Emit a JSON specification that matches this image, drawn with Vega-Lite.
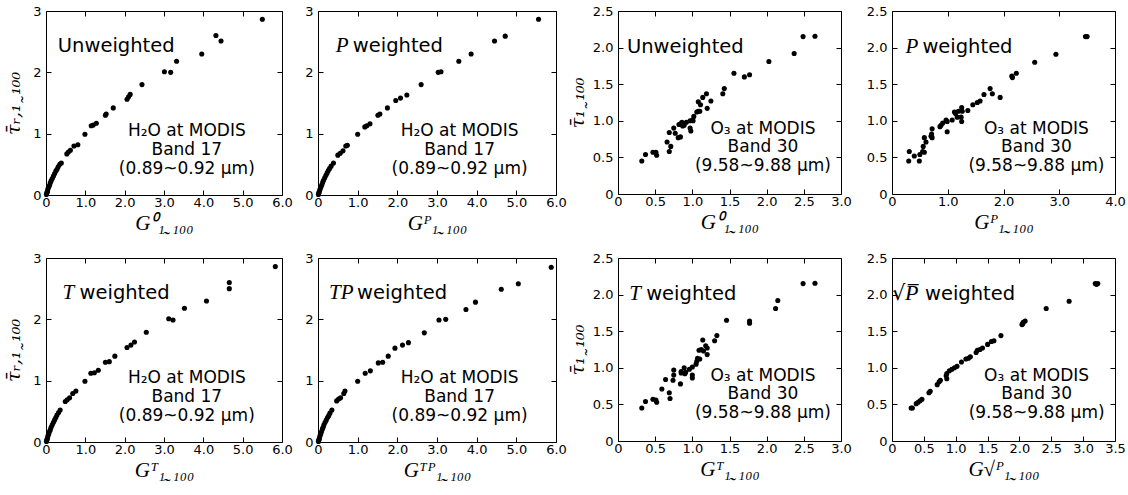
{
"$schema":"https://vega.github.io/schema/vega-lite/v6.json",
"padding":{"left":3,"top":-4,"right":0,"bottom":0},
"background":"white",
"datasets":{
"h2o":[
{"panel":"U","G":5.50,"tau":2.865},{"panel":"U","G":4.32,"tau":2.60},{"panel":"U","G":4.45,"tau":2.51},{"panel":"U","G":3.96,"tau":2.30},{"panel":"U","G":3.32,"tau":2.18},{"panel":"U","G":3.17,"tau":2.00},{"panel":"U","G":3.01,"tau":2.01},{"panel":"U","G":2.44,"tau":1.80},{"panel":"U","G":2.14,"tau":1.64},{"panel":"U","G":2.10,"tau":1.60},{"panel":"U","G":2.06,"tau":1.56},{"panel":"U","G":1.71,"tau":1.42},{"panel":"U","G":1.53,"tau":1.32},{"panel":"U","G":1.51,"tau":1.30},{"panel":"U","G":1.28,"tau":1.17},{"panel":"U","G":1.20,"tau":1.14},{"panel":"U","G":1.15,"tau":1.13},{"panel":"U","G":0.99,"tau":0.99},{"panel":"U","G":0.81,"tau":0.82},{"panel":"U","G":0.71,"tau":0.80},{"panel":"U","G":0.62,"tau":0.73},{"panel":"U","G":0.57,"tau":0.70},{"panel":"U","G":0.53,"tau":0.67},{"panel":"U","G":0.39,"tau":0.52},{"panel":"U","G":0.35,"tau":0.50},{"panel":"U","G":0.31,"tau":0.46},{"panel":"U","G":0.28,"tau":0.42},{"panel":"U","G":0.25,"tau":0.39},{"panel":"U","G":0.22,"tau":0.35},{"panel":"U","G":0.19,"tau":0.31},{"panel":"U","G":0.16,"tau":0.27},{"panel":"U","G":0.13,"tau":0.23},{"panel":"U","G":0.11,"tau":0.20},{"panel":"U","G":0.09,"tau":0.16},{"panel":"U","G":0.07,"tau":0.13},{"panel":"U","G":0.05,"tau":0.10},{"panel":"U","G":0.04,"tau":0.07},{"panel":"U","G":0.03,"tau":0.05},{"panel":"U","G":0.02,"tau":0.03},{"panel":"U","G":0.01,"tau":0.01},
{"panel":"P","G":5.56,"tau":2.865},{"panel":"P","G":4.72,"tau":2.59},{"panel":"P","G":4.45,"tau":2.51},{"panel":"P","G":3.86,"tau":2.30},{"panel":"P","G":3.55,"tau":2.18},{"panel":"P","G":3.10,"tau":2.01},{"panel":"P","G":3.03,"tau":2.00},{"panel":"P","G":2.60,"tau":1.80},{"panel":"P","G":2.24,"tau":1.63},{"panel":"P","G":2.08,"tau":1.58},{"panel":"P","G":1.96,"tau":1.54},{"panel":"P","G":1.75,"tau":1.42},{"panel":"P","G":1.56,"tau":1.32},{"panel":"P","G":1.51,"tau":1.30},{"panel":"P","G":1.31,"tau":1.16},{"panel":"P","G":1.23,"tau":1.13},{"panel":"P","G":1.18,"tau":1.11},{"panel":"P","G":1.00,"tau":0.99},{"panel":"P","G":0.74,"tau":0.81},{"panel":"P","G":0.70,"tau":0.80},{"panel":"P","G":0.63,"tau":0.72},{"panel":"P","G":0.56,"tau":0.68},{"panel":"P","G":0.50,"tau":0.65},{"panel":"P","G":0.39,"tau":0.52},{"panel":"P","G":0.33,"tau":0.47},{"panel":"P","G":0.29,"tau":0.43},{"panel":"P","G":0.26,"tau":0.40},{"panel":"P","G":0.23,"tau":0.36},{"panel":"P","G":0.20,"tau":0.32},{"panel":"P","G":0.17,"tau":0.28},{"panel":"P","G":0.14,"tau":0.24},{"panel":"P","G":0.12,"tau":0.21},{"panel":"P","G":0.10,"tau":0.17},{"panel":"P","G":0.08,"tau":0.14},{"panel":"P","G":0.06,"tau":0.11},{"panel":"P","G":0.045,"tau":0.08},{"panel":"P","G":0.03,"tau":0.05},{"panel":"P","G":0.02,"tau":0.03},{"panel":"P","G":0.01,"tau":0.01},
{"panel":"T","G":5.83,"tau":2.86},{"panel":"T","G":4.66,"tau":2.60},{"panel":"T","G":4.66,"tau":2.50},{"panel":"T","G":4.08,"tau":2.30},{"panel":"T","G":3.52,"tau":2.18},{"panel":"T","G":3.12,"tau":2.01},{"panel":"T","G":3.23,"tau":1.99},{"panel":"T","G":2.55,"tau":1.79},{"panel":"T","G":2.25,"tau":1.63},{"panel":"T","G":2.16,"tau":1.58},{"panel":"T","G":2.06,"tau":1.54},{"panel":"T","G":1.75,"tau":1.40},{"panel":"T","G":1.61,"tau":1.31},{"panel":"T","G":1.51,"tau":1.30},{"panel":"T","G":1.33,"tau":1.17},{"panel":"T","G":1.23,"tau":1.13},{"panel":"T","G":1.14,"tau":1.12},{"panel":"T","G":0.99,"tau":0.99},{"panel":"T","G":0.76,"tau":0.83},{"panel":"T","G":0.68,"tau":0.79},{"panel":"T","G":0.60,"tau":0.72},{"panel":"T","G":0.54,"tau":0.69},{"panel":"T","G":0.49,"tau":0.66},{"panel":"T","G":0.36,"tau":0.52},{"panel":"T","G":0.32,"tau":0.48},{"panel":"T","G":0.28,"tau":0.44},{"panel":"T","G":0.25,"tau":0.40},{"panel":"T","G":0.22,"tau":0.36},{"panel":"T","G":0.19,"tau":0.32},{"panel":"T","G":0.16,"tau":0.28},{"panel":"T","G":0.13,"tau":0.24},{"panel":"T","G":0.11,"tau":0.20},{"panel":"T","G":0.09,"tau":0.17},{"panel":"T","G":0.07,"tau":0.13},{"panel":"T","G":0.05,"tau":0.10},{"panel":"T","G":0.04,"tau":0.07},{"panel":"T","G":0.03,"tau":0.05},{"panel":"T","G":0.02,"tau":0.03},{"panel":"T","G":0.01,"tau":0.01},
{"panel":"TP","G":5.88,"tau":2.85},{"panel":"TP","G":5.05,"tau":2.58},{"panel":"TP","G":4.62,"tau":2.49},{"panel":"TP","G":3.97,"tau":2.28},{"panel":"TP","G":3.73,"tau":2.16},{"panel":"TP","G":3.22,"tau":2.00},{"panel":"TP","G":3.05,"tau":1.99},{"panel":"TP","G":2.68,"tau":1.78},{"panel":"TP","G":2.28,"tau":1.62},{"panel":"TP","G":2.13,"tau":1.58},{"panel":"TP","G":1.94,"tau":1.53},{"panel":"TP","G":1.77,"tau":1.40},{"panel":"TP","G":1.63,"tau":1.30},{"panel":"TP","G":1.52,"tau":1.29},{"panel":"TP","G":1.32,"tau":1.16},{"panel":"TP","G":1.19,"tau":1.12},{"panel":"TP","G":1.00,"tau":0.99},{"panel":"TP","G":0.68,"tau":0.83},{"panel":"TP","G":0.65,"tau":0.79},{"panel":"TP","G":0.57,"tau":0.72},{"panel":"TP","G":0.52,"tau":0.70},{"panel":"TP","G":0.47,"tau":0.67},{"panel":"TP","G":0.35,"tau":0.52},{"panel":"TP","G":0.30,"tau":0.47},{"panel":"TP","G":0.27,"tau":0.43},{"panel":"TP","G":0.24,"tau":0.40},{"panel":"TP","G":0.21,"tau":0.36},{"panel":"TP","G":0.18,"tau":0.32},{"panel":"TP","G":0.15,"tau":0.28},{"panel":"TP","G":0.13,"tau":0.24},{"panel":"TP","G":0.11,"tau":0.21},{"panel":"TP","G":0.09,"tau":0.17},{"panel":"TP","G":0.07,"tau":0.13},{"panel":"TP","G":0.05,"tau":0.10},{"panel":"TP","G":0.04,"tau":0.07},{"panel":"TP","G":0.03,"tau":0.05},{"panel":"TP","G":0.02,"tau":0.03},{"panel":"TP","G":0.01,"tau":0.01}
],
"o3":[
{"panel":"U","G":2.65,"tau":2.155},{"panel":"U","G":2.49,"tau":2.15},{"panel":"U","G":2.37,"tau":1.92},{"panel":"U","G":2.03,"tau":1.81},{"panel":"U","G":1.77,"tau":1.63},{"panel":"U","G":1.70,"tau":1.60},{"panel":"U","G":1.56,"tau":1.65},{"panel":"U","G":1.43,"tau":1.44},{"panel":"U","G":1.41,"tau":1.37},{"panel":"U","G":1.25,"tau":1.27},{"panel":"U","G":1.20,"tau":1.17},{"panel":"U","G":1.19,"tau":1.37},{"panel":"U","G":1.14,"tau":1.32},{"panel":"U","G":1.08,"tau":1.26},{"panel":"U","G":1.11,"tau":1.22},{"panel":"U","G":1.08,"tau":1.13},{"panel":"U","G":1.06,"tau":1.12},{"panel":"U","G":1.10,"tau":1.13},{"panel":"U","G":1.02,"tau":1.06},{"panel":"U","G":1.00,"tau":1.01},{"panel":"U","G":1.01,"tau":1.00},{"panel":"U","G":0.97,"tau":1.00},{"panel":"U","G":0.98,"tau":0.86},{"panel":"U","G":0.97,"tau":0.90},{"panel":"U","G":0.92,"tau":0.98},{"panel":"U","G":0.89,"tau":0.94},{"panel":"U","G":0.86,"tau":0.98},{"panel":"U","G":0.87,"tau":0.93},{"panel":"U","G":0.84,"tau":0.96},{"panel":"U","G":0.82,"tau":0.95},{"panel":"U","G":0.84,"tau":0.78},{"panel":"U","G":0.81,"tau":0.77},{"panel":"U","G":0.75,"tau":0.90},{"panel":"U","G":0.77,"tau":0.83},{"panel":"U","G":0.69,"tau":0.84},{"panel":"U","G":0.66,"tau":0.71},{"panel":"U","G":0.71,"tau":0.65},{"panel":"U","G":0.69,"tau":0.58},{"panel":"U","G":0.47,"tau":0.57},{"panel":"U","G":0.52,"tau":0.53},{"panel":"U","G":0.51,"tau":0.57},{"panel":"U","G":0.37,"tau":0.54},{"panel":"U","G":0.32,"tau":0.45},
{"panel":"P","G":3.50,"tau":2.15},{"panel":"P","G":3.47,"tau":2.15},{"panel":"P","G":2.94,"tau":1.91},{"panel":"P","G":2.56,"tau":1.80},{"panel":"P","G":2.23,"tau":1.65},{"panel":"P","G":2.15,"tau":1.61},{"panel":"P","G":2.16,"tau":1.59},{"panel":"P","G":1.94,"tau":1.32},{"panel":"P","G":1.80,"tau":1.37},{"panel":"P","G":1.76,"tau":1.44},{"panel":"P","G":1.65,"tau":1.36},{"panel":"P","G":1.58,"tau":1.27},{"panel":"P","G":1.53,"tau":1.25},{"panel":"P","G":1.45,"tau":1.22},{"panel":"P","G":1.36,"tau":1.14},{"panel":"P","G":1.25,"tau":1.18},{"panel":"P","G":1.26,"tau":1.13},{"panel":"P","G":1.24,"tau":1.05},{"panel":"P","G":1.25,"tau":0.99},{"panel":"P","G":1.19,"tau":1.13},{"panel":"P","G":1.14,"tau":1.10},{"panel":"P","G":1.12,"tau":1.12},{"panel":"P","G":1.17,"tau":1.05},{"panel":"P","G":1.08,"tau":1.01},{"panel":"P","G":0.97,"tau":1.01},{"panel":"P","G":0.99,"tau":0.99},{"panel":"P","G":0.91,"tau":0.97},{"panel":"P","G":0.88,"tau":0.94},{"panel":"P","G":0.86,"tau":0.92},{"panel":"P","G":0.99,"tau":0.85},{"panel":"P","G":0.72,"tau":0.89},{"panel":"P","G":0.71,"tau":0.82},{"panel":"P","G":0.72,"tau":0.77},{"panel":"P","G":0.70,"tau":0.79},{"panel":"P","G":0.61,"tau":0.71},{"panel":"P","G":0.58,"tau":0.77},{"panel":"P","G":0.56,"tau":0.65},{"panel":"P","G":0.55,"tau":0.58},{"panel":"P","G":0.58,"tau":0.57},{"panel":"P","G":0.50,"tau":0.54},{"panel":"P","G":0.49,"tau":0.45},{"panel":"P","G":0.40,"tau":0.52},{"panel":"P","G":0.31,"tau":0.58},{"panel":"P","G":0.30,"tau":0.45},
{"panel":"T","G":2.65,"tau":2.155},{"panel":"T","G":2.49,"tau":2.15},{"panel":"T","G":2.15,"tau":1.92},{"panel":"T","G":2.12,"tau":1.81},{"panel":"T","G":1.77,"tau":1.64},{"panel":"T","G":1.77,"tau":1.61},{"panel":"T","G":1.46,"tau":1.65},{"panel":"T","G":1.33,"tau":1.44},{"panel":"T","G":1.30,"tau":1.37},{"panel":"T","G":1.20,"tau":1.27},{"panel":"T","G":1.18,"tau":1.30},{"panel":"T","G":1.20,"tau":1.18},{"panel":"T","G":1.14,"tau":1.38},{"panel":"T","G":1.12,"tau":1.25},{"panel":"T","G":1.09,"tau":1.24},{"panel":"T","G":1.15,"tau":1.23},{"panel":"T","G":1.10,"tau":1.12},{"panel":"T","G":1.07,"tau":1.13},{"panel":"T","G":1.06,"tau":1.09},{"panel":"T","G":1.05,"tau":1.05},{"panel":"T","G":1.00,"tau":1.01},{"panel":"T","G":1.00,"tau":0.90},{"panel":"T","G":1.00,"tau":0.86},{"panel":"T","G":0.96,"tau":0.98},{"panel":"T","G":0.91,"tau":0.94},{"panel":"T","G":0.89,"tau":1.00},{"panel":"T","G":0.90,"tau":0.92},{"panel":"T","G":0.85,"tau":0.95},{"panel":"T","G":0.85,"tau":0.93},{"panel":"T","G":0.84,"tau":0.78},{"panel":"T","G":0.75,"tau":0.97},{"panel":"T","G":0.75,"tau":0.90},{"panel":"T","G":0.74,"tau":0.83},{"panel":"T","G":0.64,"tau":0.84},{"panel":"T","G":0.59,"tau":0.71},{"panel":"T","G":0.69,"tau":0.66},{"panel":"T","G":0.70,"tau":0.58},{"panel":"T","G":0.51,"tau":0.56},{"panel":"T","G":0.47,"tau":0.57},{"panel":"T","G":0.52,"tau":0.53},{"panel":"T","G":0.37,"tau":0.54},{"panel":"T","G":0.32,"tau":0.45},
{"panel":"S","G":3.19,"tau":2.15},{"panel":"S","G":3.23,"tau":2.15},{"panel":"S","G":3.21,"tau":2.14},{"panel":"S","G":2.78,"tau":1.91},{"panel":"S","G":2.42,"tau":1.81},{"panel":"S","G":2.09,"tau":1.64},{"panel":"S","G":2.06,"tau":1.62},{"panel":"S","G":2.05,"tau":1.60},{"panel":"S","G":2.04,"tau":1.59},{"panel":"S","G":1.71,"tau":1.44},{"panel":"S","G":1.60,"tau":1.37},{"panel":"S","G":1.56,"tau":1.36},{"panel":"S","G":1.50,"tau":1.32},{"panel":"S","G":1.42,"tau":1.27},{"panel":"S","G":1.38,"tau":1.25},{"panel":"S","G":1.34,"tau":1.24},{"panel":"S","G":1.32,"tau":1.21},{"panel":"S","G":1.23,"tau":1.15},{"panel":"S","G":1.20,"tau":1.13},{"panel":"S","G":1.16,"tau":1.12},{"panel":"S","G":1.09,"tau":1.08},{"panel":"S","G":1.02,"tau":1.02},{"panel":"S","G":0.98,"tau":1.00},{"panel":"S","G":0.94,"tau":0.98},{"panel":"S","G":0.90,"tau":0.96},{"panel":"S","G":0.86,"tau":0.92},{"panel":"S","G":0.85,"tau":0.89},{"panel":"S","G":0.86,"tau":0.85},{"panel":"S","G":0.76,"tau":0.83},{"panel":"S","G":0.74,"tau":0.81},{"panel":"S","G":0.71,"tau":0.77},{"panel":"S","G":0.60,"tau":0.68},{"panel":"S","G":0.58,"tau":0.66},{"panel":"S","G":0.47,"tau":0.57},{"panel":"S","G":0.44,"tau":0.55},{"panel":"S","G":0.41,"tau":0.53},{"panel":"S","G":0.38,"tau":0.51},{"panel":"S","G":0.32,"tau":0.45},{"panel":"S","G":0.30,"tau":0.45}
]
},
"spacing":9,
"vconcat":[
{"spacing":0,"hconcat":[
{"width":236,"height":184,"resolve":{"axis":{"x":"independent","y":"independent"}},"layer":[
{"data":{"name":"h2o"},"transform":[{"filter":"datum.panel === 'U'"}],"mark":{"type":"point","filled":true,"color":"black","size":26,"opacity":1},
"encoding":{"x":{"field":"G","type":"quantitative","scale":{"domain":[0,6],"nice":false,"zero":false},"axis":{"values":[0,1,2,3,4,5,6],"labelExpr":"datum.value === 0 ? '0' : format(datum.value, '.1f')","title":"G⁰₁˷₁₀₀"}},
"y":{"field":"tau","type":"quantitative","scale":{"domain":[0,3],"nice":false,"zero":false},"axis":{"values":[0,1,2,3],"format":"d","title":"τ̄ᵣ,₁˷₁₀₀","titlePadding":9,"minExtent":14,"maxExtent":14}}}},
{"data":{"name":"h2o"},"transform":[{"filter":"datum.panel === 'U'"}],"mark":{"type":"point","opacity":0},
"encoding":{"x":{"field":"G","type":"quantitative","scale":{"domain":[0,6],"nice":false,"zero":false},"axis":{"orient":"top","values":[0,1,2,3,4,5,6],"labels":false,"title":null,"minExtent":14.5,"maxExtent":14.5}},
"y":{"field":"tau","type":"quantitative","scale":{"domain":[0,3],"nice":false,"zero":false},"axis":{"orient":"right","values":[0,1,2,3],"labels":false,"title":null,"minExtent":0,"maxExtent":0}}}},
{"data":{"values":[{}]},"mark":{"type":"text","text":"Unweighted","align":"left","baseline":"alphabetic","font":"DejaVu Sans","fontSize":19.5,"color":"black"},
"encoding":{"x":{"datum":0.3,"type":"quantitative","scale":{"domain":[0,6],"nice":false,"zero":false},"axis":null},"y":{"datum":2.33,"type":"quantitative","scale":{"domain":[0,3],"nice":false,"zero":false},"axis":null}}},
{"data":{"values":[{}]},"mark":{"type":"text","text":["H₂O at MODIS","Band 17","(0.89~0.92 μm)"],"align":"center","baseline":"alphabetic","lineHeight":19,"font":"DejaVu Sans","fontSize":17,"color":"black"},
"encoding":{"x":{"datum":3.58,"type":"quantitative","scale":{"domain":[0,6],"nice":false,"zero":false},"axis":null},"y":{"datum":0.96,"type":"quantitative","scale":{"domain":[0,3],"nice":false,"zero":false},"axis":null}}}
]},
{"width":238,"height":184,"resolve":{"axis":{"x":"independent","y":"independent"}},"layer":[
{"data":{"name":"h2o"},"transform":[{"filter":"datum.panel === 'P'"}],"mark":{"type":"point","filled":true,"color":"black","size":26,"opacity":1},
"encoding":{"x":{"field":"G","type":"quantitative","scale":{"domain":[0,6],"nice":false,"zero":false},"axis":{"values":[0,1,2,3,4,5,6],"labelExpr":"datum.value === 0 ? '0' : format(datum.value, '.1f')","title":"Gᴾ₁˷₁₀₀"}},
"y":{"field":"tau","type":"quantitative","scale":{"domain":[0,3],"nice":false,"zero":false},"axis":{"values":[0,1,2,3],"format":"d","title":null,"minExtent":24,"maxExtent":24}}}},
{"data":{"name":"h2o"},"transform":[{"filter":"datum.panel === 'P'"}],"mark":{"type":"point","opacity":0},
"encoding":{"x":{"field":"G","type":"quantitative","scale":{"domain":[0,6],"nice":false,"zero":false},"axis":{"orient":"top","values":[0,1,2,3,4,5,6],"labels":false,"title":null,"minExtent":14.5,"maxExtent":14.5}},
"y":{"field":"tau","type":"quantitative","scale":{"domain":[0,3],"nice":false,"zero":false},"axis":{"orient":"right","values":[0,1,2,3],"labels":false,"title":null,"minExtent":0,"maxExtent":0}}}},
{"data":{"values":[{}]},"mark":{"type":"text","text":"P","align":"left","baseline":"alphabetic","font":"Liberation Serif","fontStyle":"italic","fontSize":21,"color":"black"},
"encoding":{"x":{"datum":0.45,"type":"quantitative","scale":{"domain":[0,6],"nice":false,"zero":false},"axis":null},"y":{"datum":2.33,"type":"quantitative","scale":{"domain":[0,3],"nice":false,"zero":false},"axis":null}}},
{"data":{"values":[{}]},"mark":{"type":"text","text":"weighted","align":"left","baseline":"alphabetic","dx":17,"font":"DejaVu Sans","fontSize":19.5,"color":"black"},
"encoding":{"x":{"datum":0.45,"type":"quantitative","scale":{"domain":[0,6],"nice":false,"zero":false},"axis":null},"y":{"datum":2.33,"type":"quantitative","scale":{"domain":[0,3],"nice":false,"zero":false},"axis":null}}},
{"data":{"values":[{}]},"mark":{"type":"text","text":["H₂O at MODIS","Band 17","(0.89~0.92 μm)"],"align":"center","baseline":"alphabetic","lineHeight":19,"font":"DejaVu Sans","fontSize":17,"color":"black"},
"encoding":{"x":{"datum":3.57,"type":"quantitative","scale":{"domain":[0,6],"nice":false,"zero":false},"axis":null},"y":{"datum":0.96,"type":"quantitative","scale":{"domain":[0,3],"nice":false,"zero":false},"axis":null}}}
]},
{"width":223,"height":183,"resolve":{"axis":{"x":"independent","y":"independent"}},"layer":[
{"data":{"name":"o3"},"transform":[{"filter":"datum.panel === 'U'"}],"mark":{"type":"point","filled":true,"color":"black","size":26,"opacity":1},
"encoding":{"x":{"field":"G","type":"quantitative","scale":{"domain":[0,3],"nice":false,"zero":false},"axis":{"values":[0,0.5,1,1.5,2,2.5,3],"labelExpr":"datum.value === 0 ? '0' : format(datum.value, '.1f')","title":"G⁰₁˷₁₀₀"}},
"y":{"field":"tau","type":"quantitative","scale":{"domain":[0,2.5],"nice":false,"zero":false},"axis":{"values":[0,0.5,1,1.5,2,2.5],"labelExpr":"datum.value === 0 ? '0' : format(datum.value, '.1f')","title":"τ̄₁˷₁₀₀","titlePadding":6,"minExtent":25,"maxExtent":25}}}},
{"data":{"name":"o3"},"transform":[{"filter":"datum.panel === 'U'"}],"mark":{"type":"point","opacity":0},
"encoding":{"x":{"field":"G","type":"quantitative","scale":{"domain":[0,3],"nice":false,"zero":false},"axis":{"orient":"top","values":[0,0.5,1,1.5,2,2.5,3],"labels":false,"title":null,"minExtent":0,"maxExtent":0}},
"y":{"field":"tau","type":"quantitative","scale":{"domain":[0,2.5],"nice":false,"zero":false},"axis":{"orient":"right","values":[0,0.5,1,1.5,2,2.5],"labels":false,"title":null,"minExtent":0,"maxExtent":0}}}},
{"data":{"values":[{}]},"mark":{"type":"text","text":"Unweighted","align":"left","baseline":"alphabetic","font":"DejaVu Sans","fontSize":19.5,"color":"black"},
"encoding":{"x":{"datum":0.12,"type":"quantitative","scale":{"domain":[0,3],"nice":false,"zero":false},"axis":null},"y":{"datum":1.93,"type":"quantitative","scale":{"domain":[0,2.5],"nice":false,"zero":false},"axis":null}}},
{"data":{"values":[{}]},"mark":{"type":"text","text":["O₃ at MODIS","Band 30","(9.58~9.88 μm)"],"align":"center","baseline":"alphabetic","lineHeight":18.5,"font":"DejaVu Sans","fontSize":17,"color":"black"},
"encoding":{"x":{"datum":1.95,"type":"quantitative","scale":{"domain":[0,3],"nice":false,"zero":false},"axis":null},"y":{"datum":0.82,"type":"quantitative","scale":{"domain":[0,2.5],"nice":false,"zero":false},"axis":null}}}
]},
{"width":223,"height":183,"resolve":{"axis":{"x":"independent","y":"independent"}},"layer":[
{"data":{"name":"o3"},"transform":[{"filter":"datum.panel === 'P'"}],"mark":{"type":"point","filled":true,"color":"black","size":26,"opacity":1},
"encoding":{"x":{"field":"G","type":"quantitative","scale":{"domain":[0,4],"nice":false,"zero":false},"axis":{"values":[0,1,2,3,4],"labelExpr":"datum.value === 0 ? '0' : format(datum.value, '.1f')","title":"Gᴾ₁˷₁₀₀"}},
"y":{"field":"tau","type":"quantitative","scale":{"domain":[0,2.5],"nice":false,"zero":false},"axis":{"values":[0,0.5,1,1.5,2,2.5],"labelExpr":"datum.value === 0 ? '0' : format(datum.value, '.1f')","title":null,"minExtent":39,"maxExtent":39}}}},
{"data":{"name":"o3"},"transform":[{"filter":"datum.panel === 'P'"}],"mark":{"type":"point","opacity":0},
"encoding":{"x":{"field":"G","type":"quantitative","scale":{"domain":[0,4],"nice":false,"zero":false},"axis":{"orient":"top","values":[0,1,2,3,4],"labels":false,"title":null,"minExtent":0,"maxExtent":0}},
"y":{"field":"tau","type":"quantitative","scale":{"domain":[0,2.5],"nice":false,"zero":false},"axis":{"orient":"right","values":[0,0.5,1,1.5,2,2.5],"labels":false,"title":null,"minExtent":0,"maxExtent":0}}}},
{"data":{"values":[{}]},"mark":{"type":"text","text":"P","align":"left","baseline":"alphabetic","font":"Liberation Serif","fontStyle":"italic","fontSize":21,"color":"black"},
"encoding":{"x":{"datum":0.24,"type":"quantitative","scale":{"domain":[0,4],"nice":false,"zero":false},"axis":null},"y":{"datum":1.93,"type":"quantitative","scale":{"domain":[0,2.5],"nice":false,"zero":false},"axis":null}}},
{"data":{"values":[{}]},"mark":{"type":"text","text":"weighted","align":"left","baseline":"alphabetic","dx":17,"font":"DejaVu Sans","fontSize":19.5,"color":"black"},
"encoding":{"x":{"datum":0.24,"type":"quantitative","scale":{"domain":[0,4],"nice":false,"zero":false},"axis":null},"y":{"datum":1.93,"type":"quantitative","scale":{"domain":[0,2.5],"nice":false,"zero":false},"axis":null}}},
{"data":{"values":[{}]},"mark":{"type":"text","text":["O₃ at MODIS","Band 30","(9.58~9.88 μm)"],"align":"center","baseline":"alphabetic","lineHeight":18.5,"font":"DejaVu Sans","fontSize":17,"color":"black"},
"encoding":{"x":{"datum":2.59,"type":"quantitative","scale":{"domain":[0,4],"nice":false,"zero":false},"axis":null},"y":{"datum":0.82,"type":"quantitative","scale":{"domain":[0,2.5],"nice":false,"zero":false},"axis":null}}}
]}
]},
{"spacing":0,"hconcat":[
{"width":236,"height":184,"resolve":{"axis":{"x":"independent","y":"independent"}},"layer":[
{"data":{"name":"h2o"},"transform":[{"filter":"datum.panel === 'T'"}],"mark":{"type":"point","filled":true,"color":"black","size":26,"opacity":1},
"encoding":{"x":{"field":"G","type":"quantitative","scale":{"domain":[0,6],"nice":false,"zero":false},"axis":{"values":[0,1,2,3,4,5,6],"labelExpr":"datum.value === 0 ? '0' : format(datum.value, '.1f')","title":"Gᵀ₁˷₁₀₀"}},
"y":{"field":"tau","type":"quantitative","scale":{"domain":[0,3],"nice":false,"zero":false},"axis":{"values":[0,1,2,3],"format":"d","title":"τ̄ᵣ,₁˷₁₀₀","titlePadding":9,"minExtent":14,"maxExtent":14}}}},
{"data":{"name":"h2o"},"transform":[{"filter":"datum.panel === 'T'"}],"mark":{"type":"point","opacity":0},
"encoding":{"x":{"field":"G","type":"quantitative","scale":{"domain":[0,6],"nice":false,"zero":false},"axis":{"orient":"top","values":[0,1,2,3,4,5,6],"labels":false,"title":null,"minExtent":14.5,"maxExtent":14.5}},
"y":{"field":"tau","type":"quantitative","scale":{"domain":[0,3],"nice":false,"zero":false},"axis":{"orient":"right","values":[0,1,2,3],"labels":false,"title":null,"minExtent":0,"maxExtent":0}}}},
{"data":{"values":[{}]},"mark":{"type":"text","text":"T","align":"left","baseline":"alphabetic","font":"Liberation Serif","fontStyle":"italic","fontSize":21,"color":"black"},
"encoding":{"x":{"datum":0.42,"type":"quantitative","scale":{"domain":[0,6],"nice":false,"zero":false},"axis":null},"y":{"datum":2.33,"type":"quantitative","scale":{"domain":[0,3],"nice":false,"zero":false},"axis":null}}},
{"data":{"values":[{}]},"mark":{"type":"text","text":"weighted","align":"left","baseline":"alphabetic","dx":17,"font":"DejaVu Sans","fontSize":19.5,"color":"black"},
"encoding":{"x":{"datum":0.42,"type":"quantitative","scale":{"domain":[0,6],"nice":false,"zero":false},"axis":null},"y":{"datum":2.33,"type":"quantitative","scale":{"domain":[0,3],"nice":false,"zero":false},"axis":null}}},
{"data":{"values":[{}]},"mark":{"type":"text","text":["H₂O at MODIS","Band 17","(0.89~0.92 μm)"],"align":"center","baseline":"alphabetic","lineHeight":19,"font":"DejaVu Sans","fontSize":17,"color":"black"},
"encoding":{"x":{"datum":3.58,"type":"quantitative","scale":{"domain":[0,6],"nice":false,"zero":false},"axis":null},"y":{"datum":0.97,"type":"quantitative","scale":{"domain":[0,3],"nice":false,"zero":false},"axis":null}}}
]},
{"width":238,"height":184,"resolve":{"axis":{"x":"independent","y":"independent"}},"layer":[
{"data":{"name":"h2o"},"transform":[{"filter":"datum.panel === 'TP'"}],"mark":{"type":"point","filled":true,"color":"black","size":26,"opacity":1},
"encoding":{"x":{"field":"G","type":"quantitative","scale":{"domain":[0,6],"nice":false,"zero":false},"axis":{"values":[0,1,2,3,4,5,6],"labelExpr":"datum.value === 0 ? '0' : format(datum.value, '.1f')","title":"Gᵀᴾ₁˷₁₀₀"}},
"y":{"field":"tau","type":"quantitative","scale":{"domain":[0,3],"nice":false,"zero":false},"axis":{"values":[0,1,2,3],"format":"d","title":null,"minExtent":24,"maxExtent":24}}}},
{"data":{"name":"h2o"},"transform":[{"filter":"datum.panel === 'TP'"}],"mark":{"type":"point","opacity":0},
"encoding":{"x":{"field":"G","type":"quantitative","scale":{"domain":[0,6],"nice":false,"zero":false},"axis":{"orient":"top","values":[0,1,2,3,4,5,6],"labels":false,"title":null,"minExtent":14.5,"maxExtent":14.5}},
"y":{"field":"tau","type":"quantitative","scale":{"domain":[0,3],"nice":false,"zero":false},"axis":{"orient":"right","values":[0,1,2,3],"labels":false,"title":null,"minExtent":0,"maxExtent":0}}}},
{"data":{"values":[{}]},"mark":{"type":"text","text":"TP","align":"left","baseline":"alphabetic","font":"Liberation Serif","fontStyle":"italic","fontSize":21,"color":"black"},
"encoding":{"x":{"datum":0.28,"type":"quantitative","scale":{"domain":[0,6],"nice":false,"zero":false},"axis":null},"y":{"datum":2.33,"type":"quantitative","scale":{"domain":[0,3],"nice":false,"zero":false},"axis":null}}},
{"data":{"values":[{}]},"mark":{"type":"text","text":"weighted","align":"left","baseline":"alphabetic","dx":28,"font":"DejaVu Sans","fontSize":19.5,"color":"black"},
"encoding":{"x":{"datum":0.28,"type":"quantitative","scale":{"domain":[0,6],"nice":false,"zero":false},"axis":null},"y":{"datum":2.33,"type":"quantitative","scale":{"domain":[0,3],"nice":false,"zero":false},"axis":null}}},
{"data":{"values":[{}]},"mark":{"type":"text","text":["H₂O at MODIS","Band 17","(0.89~0.92 μm)"],"align":"center","baseline":"alphabetic","lineHeight":19,"font":"DejaVu Sans","fontSize":17,"color":"black"},
"encoding":{"x":{"datum":3.57,"type":"quantitative","scale":{"domain":[0,6],"nice":false,"zero":false},"axis":null},"y":{"datum":0.97,"type":"quantitative","scale":{"domain":[0,3],"nice":false,"zero":false},"axis":null}}}
]},
{"width":223,"height":183,"resolve":{"axis":{"x":"independent","y":"independent"}},"layer":[
{"data":{"name":"o3"},"transform":[{"filter":"datum.panel === 'T'"}],"mark":{"type":"point","filled":true,"color":"black","size":26,"opacity":1},
"encoding":{"x":{"field":"G","type":"quantitative","scale":{"domain":[0,3],"nice":false,"zero":false},"axis":{"values":[0,0.5,1,1.5,2,2.5,3],"labelExpr":"datum.value === 0 ? '0' : format(datum.value, '.1f')","title":"Gᵀ₁˷₁₀₀"}},
"y":{"field":"tau","type":"quantitative","scale":{"domain":[0,2.5],"nice":false,"zero":false},"axis":{"values":[0,0.5,1,1.5,2,2.5],"labelExpr":"datum.value === 0 ? '0' : format(datum.value, '.1f')","title":"τ̄₁˷₁₀₀","titlePadding":6,"minExtent":25,"maxExtent":25}}}},
{"data":{"name":"o3"},"transform":[{"filter":"datum.panel === 'T'"}],"mark":{"type":"point","opacity":0},
"encoding":{"x":{"field":"G","type":"quantitative","scale":{"domain":[0,3],"nice":false,"zero":false},"axis":{"orient":"top","values":[0,0.5,1,1.5,2,2.5,3],"labels":false,"title":null,"minExtent":0,"maxExtent":0}},
"y":{"field":"tau","type":"quantitative","scale":{"domain":[0,2.5],"nice":false,"zero":false},"axis":{"orient":"right","values":[0,0.5,1,1.5,2,2.5],"labels":false,"title":null,"minExtent":0,"maxExtent":0}}}},
{"data":{"values":[{}]},"mark":{"type":"text","text":"T","align":"left","baseline":"alphabetic","font":"Liberation Serif","fontStyle":"italic","fontSize":21,"color":"black"},
"encoding":{"x":{"datum":0.15,"type":"quantitative","scale":{"domain":[0,3],"nice":false,"zero":false},"axis":null},"y":{"datum":1.93,"type":"quantitative","scale":{"domain":[0,2.5],"nice":false,"zero":false},"axis":null}}},
{"data":{"values":[{}]},"mark":{"type":"text","text":"weighted","align":"left","baseline":"alphabetic","dx":17,"font":"DejaVu Sans","fontSize":19.5,"color":"black"},
"encoding":{"x":{"datum":0.15,"type":"quantitative","scale":{"domain":[0,3],"nice":false,"zero":false},"axis":null},"y":{"datum":1.93,"type":"quantitative","scale":{"domain":[0,2.5],"nice":false,"zero":false},"axis":null}}},
{"data":{"values":[{}]},"mark":{"type":"text","text":["O₃ at MODIS","Band 30","(9.58~9.88 μm)"],"align":"center","baseline":"alphabetic","lineHeight":18.5,"font":"DejaVu Sans","fontSize":17,"color":"black"},
"encoding":{"x":{"datum":1.95,"type":"quantitative","scale":{"domain":[0,3],"nice":false,"zero":false},"axis":null},"y":{"datum":0.82,"type":"quantitative","scale":{"domain":[0,2.5],"nice":false,"zero":false},"axis":null}}}
]},
{"width":223,"height":183,"resolve":{"axis":{"x":"independent","y":"independent"}},"layer":[
{"data":{"name":"o3"},"transform":[{"filter":"datum.panel === 'S'"}],"mark":{"type":"point","filled":true,"color":"black","size":26,"opacity":1},
"encoding":{"x":{"field":"G","type":"quantitative","scale":{"domain":[0,3.5],"nice":false,"zero":false},"axis":{"values":[0,0.5,1,1.5,2,2.5,3,3.5],"labelExpr":"datum.value === 0 ? '0' : format(datum.value, '.1f')","title":"G√ᴾ₁˷₁₀₀"}},
"y":{"field":"tau","type":"quantitative","scale":{"domain":[0,2.5],"nice":false,"zero":false},"axis":{"values":[0,0.5,1,1.5,2,2.5],"labelExpr":"datum.value === 0 ? '0' : format(datum.value, '.1f')","title":null,"minExtent":39,"maxExtent":39}}}},
{"data":{"name":"o3"},"transform":[{"filter":"datum.panel === 'S'"}],"mark":{"type":"point","opacity":0},
"encoding":{"x":{"field":"G","type":"quantitative","scale":{"domain":[0,3.5],"nice":false,"zero":false},"axis":{"orient":"top","values":[0,0.5,1,1.5,2,2.5,3,3.5],"labels":false,"title":null,"minExtent":0,"maxExtent":0}},
"y":{"field":"tau","type":"quantitative","scale":{"domain":[0,2.5],"nice":false,"zero":false},"axis":{"orient":"right","values":[0,0.5,1,1.5,2,2.5],"labels":false,"title":null,"minExtent":0,"maxExtent":0}}}},
{"data":{"values":[{}]},"mark":{"type":"text","text":"√","align":"left","baseline":"alphabetic","font":"DejaVu Sans","fontSize":21,"color":"black"},
"encoding":{"x":{"datum":0.0,"type":"quantitative","scale":{"domain":[0,3.5],"nice":false,"zero":false},"axis":null},"y":{"datum":1.93,"type":"quantitative","scale":{"domain":[0,2.5],"nice":false,"zero":false},"axis":null}}},
{"data":{"values":[{}]},"mark":{"type":"text","text":"P̅","align":"left","baseline":"alphabetic","dx":13,"font":"Liberation Serif","fontStyle":"italic","fontSize":22,"color":"black"},
"encoding":{"x":{"datum":0.0,"type":"quantitative","scale":{"domain":[0,3.5],"nice":false,"zero":false},"axis":null},"y":{"datum":1.93,"type":"quantitative","scale":{"domain":[0,2.5],"nice":false,"zero":false},"axis":null}}},
{"data":{"values":[{}]},"mark":{"type":"text","text":"weighted","align":"left","baseline":"alphabetic","dx":33,"font":"DejaVu Sans","fontSize":19.5,"color":"black"},
"encoding":{"x":{"datum":0.0,"type":"quantitative","scale":{"domain":[0,3.5],"nice":false,"zero":false},"axis":null},"y":{"datum":1.93,"type":"quantitative","scale":{"domain":[0,2.5],"nice":false,"zero":false},"axis":null}}},
{"data":{"values":[{}]},"mark":{"type":"text","text":["O₃ at MODIS","Band 30","(9.58~9.88 μm)"],"align":"center","baseline":"alphabetic","lineHeight":18.5,"font":"DejaVu Sans","fontSize":17,"color":"black"},
"encoding":{"x":{"datum":2.27,"type":"quantitative","scale":{"domain":[0,3.5],"nice":false,"zero":false},"axis":null},"y":{"datum":0.82,"type":"quantitative","scale":{"domain":[0,2.5],"nice":false,"zero":false},"axis":null}}}
]}
]}
],
"config":{
"view":{"stroke":"black","strokeWidth":1},
"font":"DejaVu Sans",
"axis":{"tickSize":-5,"tickColor":"black","tickWidth":1,"labelFont":"DejaVu Sans","labelFontSize":13,"labelColor":"black","labelFlush":false,"labelOverlap":false,"domain":false,"grid":false,"titleFont":"Liberation Serif","titleFontStyle":"italic","titleFontWeight":"normal","titleColor":"black"},
"axisX":{"labelPadding":6,"titleFontSize":21,"titlePadding":1.5,"minExtent":16,"maxExtent":16},
"axisY":{"labelPadding":10,"titleFontSize":19,"titleFont":"DejaVu Serif"}
}
}
